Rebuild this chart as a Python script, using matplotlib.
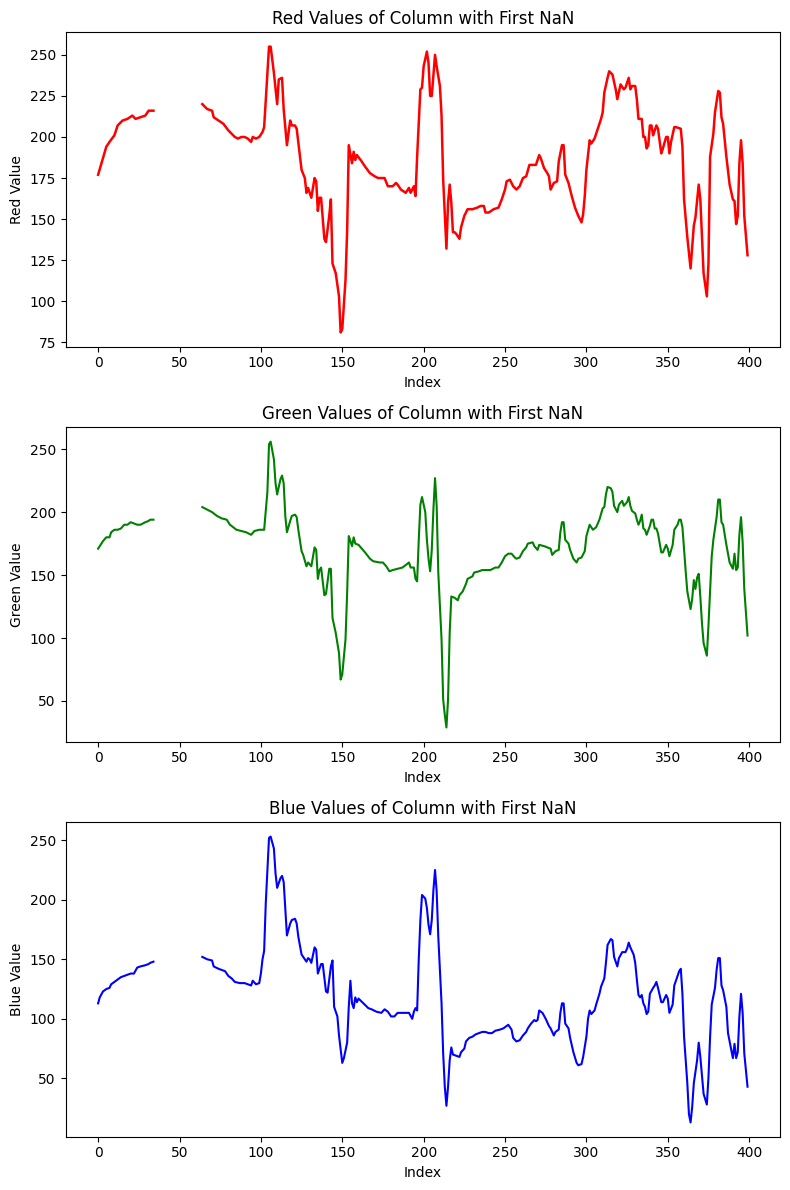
import numpy as np
import matplotlib
matplotlib.use("Agg")
import matplotlib.pyplot as plt

GAP = np.nan

red_points = [
    (0, 177), (5, 194), (7, 197), (10, 201), (12, 207), (15, 210), (18, 211), (21, 213),
    (23, 211), (26, 212), (29, 213), (31, 216), (34, 216), (35, GAP),
    (64, 220), (67, 217), (70, 216), (71, 212), (74, 210), (77, 208), (80, 204), (82, 202),
    (84, 200), (86, 199), (88, 200), (90, 200), (92, 199), (94, 197), (95, 200), (97, 199),
    (99, 200), (101, 203), (102, 206), (103, 222), (105, 255), (106, 255), (108, 239),
    (110, 220), (111, 235), (113, 236), (114, 217), (116, 195), (118, 210), (119, 207),
    (121, 207), (122, 205), (124, 188), (125, 180), (127, 175), (128, 166), (129, 169),
    (131, 163), (133, 175), (134, 173), (135, 155), (136, 163), (137, 163), (139, 138),
    (140, 136), (142, 152), (143, 162), (144, 123), (146, 117), (148, 103), (149, 81),
    (150, 83), (152, 113), (153, 143), (154, 195), (156, 184), (157, 191), (158, 186),
    (159, 189), (162, 185), (164, 182), (167, 178), (170, 176), (172, 175), (176, 175),
    (178, 170), (181, 170), (183, 172), (184, 171), (186, 168), (189, 166), (191, 169),
    (192, 166), (194, 170), (195, 164), (196, 188), (198, 229), (199, 230), (200, 243),
    (202, 252), (203, 245), (204, 225), (205, 225), (207, 250), (208, 243), (210, 231),
    (211, 213), (212, 174), (214, 132), (215, 160), (216, 171), (217, 160), (218, 142),
    (219, 142), (220, 141), (222, 138), (223, 145), (225, 152), (227, 156), (230, 156),
    (233, 157), (235, 158), (237, 158), (238, 154), (240, 154), (243, 156), (246, 157),
    (248, 162), (250, 168), (251, 173), (253, 174), (255, 170), (257, 168), (259, 170),
    (261, 175), (263, 176), (265, 183), (269, 183), (271, 189), (272, 187), (274, 181),
    (276, 178), (277, 176), (278, 168), (280, 172), (282, 173), (283, 185), (285, 195),
    (286, 195), (287, 177), (289, 172), (291, 164), (293, 157), (295, 152), (297, 148),
    (298, 153), (299, 164), (300, 180), (302, 198), (303, 196), (305, 199), (307, 205),
    (309, 211), (310, 215), (311, 227), (313, 236), (314, 240), (316, 238), (318, 229),
    (319, 223), (321, 232), (323, 229), (324, 230), (326, 236), (327, 229), (328, 231),
    (330, 231), (331, 223), (332, 211), (334, 211), (335, 200), (336, 200), (337, 193),
    (338, 195), (339, 207), (340, 207), (341, 201), (343, 207), (344, 205), (346, 190),
    (347, 193), (349, 200), (350, 200), (351, 190), (352, 197), (354, 206), (355, 206),
    (358, 205), (359, 194), (360, 162), (362, 139), (364, 120), (365, 133), (366, 146),
    (367, 151), (369, 171), (370, 162), (371, 139), (372, 117), (374, 103), (375, 123),
    (376, 188), (378, 202), (379, 215), (381, 228), (382, 227), (383, 212), (384, 208),
    (386, 188), (388, 171), (390, 162), (391, 161), (392, 147), (393, 152), (394, 184),
    (395, 198), (396, 184), (397, 152), (399, 128),
]

green_points = [
    (0, 171), (1, 173), (3, 177), (5, 180), (7, 180), (8, 184), (10, 186), (12, 186),
    (14, 187), (16, 190), (18, 190), (20, 192), (22, 191), (24, 190), (26, 190), (29, 192),
    (31, 193), (32, 194), (34, 194), (35, GAP),
    (64, 204), (67, 202), (70, 200), (73, 197), (76, 195), (79, 194), (81, 190), (83, 188),
    (85, 186), (88, 185), (91, 184), (94, 182), (96, 185), (99, 186), (101, 186), (102, 186),
    (104, 216), (105, 254), (106, 256), (108, 242), (109, 223), (110, 214), (112, 226),
    (113, 229), (114, 223), (115, 197), (116, 184), (118, 193), (119, 197), (121, 198),
    (122, 196), (123, 186), (125, 169), (126, 166), (128, 157), (129, 160), (131, 157),
    (133, 172), (134, 170), (135, 147), (136, 154), (137, 156), (139, 134), (140, 135),
    (142, 155), (143, 155), (144, 116), (146, 104), (148, 88), (149, 67), (150, 71),
    (152, 99), (153, 136), (154, 181), (156, 173), (157, 180), (158, 175), (160, 174),
    (162, 171), (164, 168), (167, 163), (169, 161), (173, 160), (175, 160), (177, 157),
    (179, 153), (181, 154), (184, 155), (187, 156), (189, 158), (191, 160), (192, 156),
    (194, 156), (195, 147), (196, 145), (197, 178), (198, 206), (199, 212), (201, 200),
    (202, 178), (203, 163), (204, 153), (205, 170), (206, 202), (207, 227), (208, 205),
    (209, 152), (211, 99), (212, 51), (213, 39), (214, 29), (215, 51), (216, 104),
    (217, 133), (219, 132), (221, 130), (222, 134), (224, 137), (226, 143), (227, 147),
    (230, 149), (231, 152), (234, 153), (236, 154), (239, 154), (241, 154), (244, 156),
    (246, 156), (248, 160), (250, 165), (252, 167), (254, 167), (256, 164), (257, 163),
    (259, 164), (261, 169), (263, 172), (264, 175), (267, 176), (268, 173), (270, 170),
    (271, 174), (274, 173), (276, 172), (278, 171), (279, 166), (281, 169), (283, 170),
    (284, 184), (285, 192), (286, 192), (287, 178), (289, 175), (290, 170), (292, 163),
    (294, 160), (295, 163), (297, 164), (299, 169), (300, 181), (302, 190), (304, 186),
    (306, 188), (308, 194), (310, 203), (311, 204), (312, 214), (313, 220), (315, 219),
    (316, 216), (317, 205), (319, 200), (320, 206), (322, 209), (323, 205), (325, 208),
    (326, 212), (327, 205), (328, 201), (330, 199), (331, 194), (332, 190), (333, 193),
    (334, 198), (335, 187), (336, 186), (337, 182), (339, 189), (340, 194), (341, 194),
    (342, 187), (343, 187), (344, 183), (346, 168), (347, 168), (349, 174), (350, 171),
    (351, 165), (353, 174), (354, 186), (356, 190), (357, 194), (358, 194), (359, 188),
    (361, 153), (362, 137), (364, 123), (365, 131), (366, 146), (367, 139), (368, 148),
    (369, 151), (370, 133), (371, 112), (372, 96), (374, 86), (375, 110), (377, 165),
    (378, 178), (380, 196), (381, 210), (382, 210), (383, 192), (384, 190), (386, 174),
    (388, 160), (390, 155), (391, 167), (392, 154), (393, 156), (394, 182), (395, 196),
    (396, 176), (397, 139), (399, 102),
]

blue_points = [
    (0, 113), (1, 118), (3, 123), (5, 125), (7, 126), (8, 129), (10, 131), (12, 133),
    (14, 135), (16, 136), (18, 137), (20, 138), (22, 138), (24, 143), (26, 144), (29, 145),
    (31, 146), (32, 147), (34, 148), (35, GAP),
    (64, 152), (67, 150), (70, 149), (71, 144), (74, 142), (78, 140), (80, 136), (82, 134),
    (84, 131), (87, 130), (90, 130), (92, 129), (94, 128), (95, 132), (97, 129), (99, 130),
    (100, 138), (101, 150), (102, 157), (103, 197), (105, 252), (106, 253), (108, 243),
    (109, 222), (110, 210), (112, 218), (113, 220), (114, 215), (115, 192), (116, 170),
    (118, 180), (119, 183), (121, 184), (122, 180), (123, 169), (125, 154), (126, 152),
    (128, 148), (129, 151), (130, 150), (131, 147), (133, 160), (134, 158), (135, 138),
    (137, 146), (138, 146), (140, 123), (141, 122), (143, 144), (144, 149), (145, 110),
    (147, 102), (148, 86), (150, 63), (151, 67), (153, 80), (154, 110), (155, 132),
    (156, 113), (157, 109), (158, 118), (159, 114), (160, 117), (163, 113), (166, 109),
    (168, 108), (171, 106), (174, 105), (176, 108), (178, 106), (180, 102), (182, 102),
    (184, 105), (187, 105), (191, 105), (193, 100), (194, 106), (195, 109), (196, 107),
    (197, 150), (198, 183), (199, 204), (201, 201), (202, 193), (203, 179), (204, 171),
    (205, 183), (206, 208), (207, 225), (208, 207), (209, 169), (211, 113), (212, 71),
    (213, 43), (214, 27), (215, 43), (216, 65), (217, 76), (218, 70), (220, 69),
    (222, 68), (223, 72), (225, 75), (226, 81), (228, 84), (230, 85), (232, 87),
    (234, 88), (236, 89), (238, 89), (240, 88), (242, 88), (244, 90), (247, 91),
    (249, 92), (250, 93), (252, 95), (253, 93), (254, 91), (255, 84), (257, 81),
    (259, 82), (261, 86), (263, 89), (264, 92), (266, 96), (268, 99), (269, 98),
    (270, 99), (271, 107), (273, 105), (275, 100), (277, 94), (278, 92), (280, 86),
    (281, 89), (283, 91), (284, 105), (285, 113), (286, 113), (287, 96), (289, 92),
    (290, 84), (292, 72), (294, 63), (295, 61), (297, 62), (298, 68), (300, 85),
    (301, 100), (302, 107), (303, 104), (305, 107), (306, 112), (308, 121), (309, 127),
    (311, 134), (312, 147), (313, 162), (315, 167), (316, 166), (317, 152), (319, 144),
    (320, 151), (322, 156), (324, 156), (325, 159), (326, 164), (327, 160), (329, 154),
    (330, 147), (331, 133), (332, 120), (333, 118), (334, 120), (335, 113), (336, 110),
    (337, 104), (338, 106), (339, 121), (341, 126), (342, 128), (343, 131), (344, 126),
    (346, 114), (347, 114), (349, 120), (350, 117), (351, 105), (353, 112), (354, 128),
    (356, 136), (357, 140), (358, 142), (359, 121), (360, 85), (362, 46), (363, 20),
    (364, 13), (365, 26), (366, 46), (368, 65), (369, 80), (370, 68), (371, 53),
    (372, 37), (374, 28), (375, 51), (376, 85), (377, 112), (379, 126), (380, 141),
    (381, 151), (382, 151), (383, 128), (384, 124), (386, 110), (387, 88), (389, 74),
    (390, 67), (391, 79), (392, 67), (393, 72), (394, 102), (395, 121), (396, 105),
    (397, 71), (399, 43),
]

panels = [
    ("Red", red_points, "red", 1.8),
    ("Green", green_points, "green", 1.5),
    ("Blue", blue_points, "blue", 1.5),
]

fig, axes = plt.subplots(3, 1, figsize=(8, 12), dpi=100)
for ax, (name, pts, color, lw) in zip(axes, panels):
    x = np.array([p[0] for p in pts], dtype=float)
    y = np.array([p[1] for p in pts], dtype=float)
    ax.plot(x, y, color=color, linewidth=lw)
    ax.set_title(f"{name} Values of Column with First NaN")
    ax.set_xlabel("Index")
    ax.set_ylabel(f"{name} Value")
    ax.set_xlim(-19.95, 418.95)

fig.tight_layout()
fig.savefig("out.png", dpi=100, bbox_inches="tight")
